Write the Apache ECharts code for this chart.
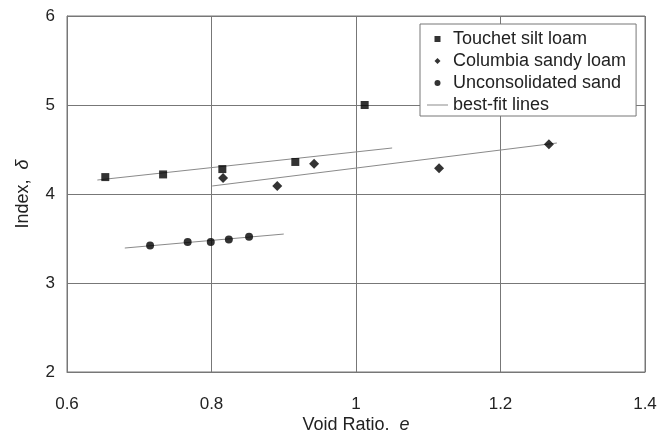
<!DOCTYPE html>
<html><head><meta charset="utf-8">
<script src="https://cdn.jsdelivr.net/npm/echarts@6/dist/echarts.min.js"></script>
<style>html,body{margin:0;padding:0;background:#fff}#c{width:669px;height:430px}</style>
</head><body><div id="c"></div>
<script>
const touchetX = [0.653, 0.733, 0.815, 0.916, 1.012];
const touchetY = [4.19, 4.22, 4.28, 4.36, 5.00];
const columbiaX = [0.816, 0.891, 0.942, 1.115, 1.267];
const columbiaY = [4.18, 4.09, 4.34, 4.29, 4.56];
const sandX = [0.715, 0.767, 0.799, 0.824, 0.852];
const sandY = [3.42, 3.46, 3.46, 3.49, 3.52];
const touchetFitX = [0.642, 1.050];
const touchetFitY = [4.157, 4.517];
const columbiaFitX = [0.801, 1.278];
const columbiaFitY = [4.09, 4.573];
const sandFitX = [0.680, 0.900];
const sandFitY = [3.393, 3.55];
const seriesNames = ['Touchet silt loam', 'Columbia sandy loam', 'Unconsolidated sand', 'best-fit lines'];
const xTicks = [0.6, 0.8, 1.0, 1.2, 1.4];
const yTicks = [2, 3, 4, 5, 6];

const zip = (a, b) => a.map((v, i) => [v, b[i]]);
const FONT = '"Liberation Sans", Arial, sans-serif';
const SQ = 'path://M0,0L10,0L10,10L0,10Z';
const DM = 'path://M5,0L10,5L5,10L0,5Z';
const CI = 'path://M0,5A5,5 0 1,0 10,5A5,5 0 1,0 0,5Z';
const LN = 'path://M0,0L21,0L21,1L0,1Z';
const lineStyle = {color: '#8a8a8a', width: 1};

const chart = echarts.init(document.getElementById('c'), null, {renderer: 'canvas'});
chart.setOption({
  animation: false,
  backgroundColor: '#fff',
  grid: {left: 67, right: 24, top: 16, bottom: 58, outerBoundsMode: 'none', containLabel: false, show: true, borderColor: '#777', borderWidth: 1},
  xAxis: {
    type: 'value', min: xTicks[0], max: xTicks[xTicks.length - 1], interval: 0.2,
    axisLine: {lineStyle: {color: '#777'}}, axisTick: {show: false},
    splitLine: {lineStyle: {color: '#777', width: 1}},
    axisLabel: {fontSize: 17, color: '#222', fontFamily: FONT, margin: 24, formatter: v => String(+v.toFixed(1))},
    name: '{a|Void Ratio,  }{b|e}', nameLocation: 'middle', nameGap: 44, nameMoveOverlap: false,
    nameTextStyle: {rich: {a: {fontSize: 18, color: '#222', fontFamily: FONT}, b: {fontSize: 18, color: '#222', fontFamily: FONT, fontStyle: 'italic'}}}
  },
  yAxis: {
    type: 'value', min: yTicks[0], max: yTicks[yTicks.length - 1], interval: 1,
    axisLine: {lineStyle: {color: '#777'}}, axisTick: {show: false},
    splitLine: {lineStyle: {color: '#777', width: 1}},
    axisLabel: {fontSize: 17, color: '#222', fontFamily: FONT, margin: 12},
    name: '{a|Index,  }{b|δ}', nameLocation: 'middle', nameGap: 35, nameMoveOverlap: false,
    nameTextStyle: {rich: {a: {fontSize: 18, color: '#222', fontFamily: FONT}, b: {fontSize: 18, color: '#222', fontFamily: FONT, fontStyle: 'italic'}}}
  },
  legend: {
    orient: 'vertical', left: 420, top: 24,
    backgroundColor: '#fff', borderColor: '#777', borderWidth: 1,
    padding: [6, 10, 2, 7], itemGap: 4, itemWidth: 21, itemHeight: 6,
    textStyle: {fontSize: 18, color: '#222', fontFamily: FONT, lineHeight: 18},
    data: [
      {name: seriesNames[0], icon: SQ},
      {name: seriesNames[1], icon: DM},
      {name: seriesNames[2], icon: CI},
      {name: seriesNames[3], icon: LN}
    ]
  },
  series: [
    {name: seriesNames[0], type: 'scatter', symbol: 'rect', symbolSize: 8, itemStyle: {color: '#000'}, data: zip(touchetX, touchetY), z: 5},
    {name: seriesNames[1], type: 'scatter', symbol: 'diamond', symbolSize: 10, itemStyle: {color: '#000'}, data: zip(columbiaX, columbiaY), z: 5},
    {name: seriesNames[2], type: 'scatter', symbol: 'circle', symbolSize: 8, itemStyle: {color: '#000'}, data: zip(sandX, sandY), z: 5},
    {name: seriesNames[3], type: 'line', symbol: 'none', lineStyle: lineStyle, itemStyle: {color: '#8a8a8a'}, data: zip(touchetFitX, touchetFitY)},
    {name: seriesNames[3], type: 'line', symbol: 'none', lineStyle: lineStyle, itemStyle: {color: '#8a8a8a'}, data: zip(columbiaFitX, columbiaFitY)},
    {name: seriesNames[3], type: 'line', symbol: 'none', lineStyle: lineStyle, itemStyle: {color: '#8a8a8a'}, data: zip(sandFitX, sandFitY)}
  ]
});
</script></body></html>
